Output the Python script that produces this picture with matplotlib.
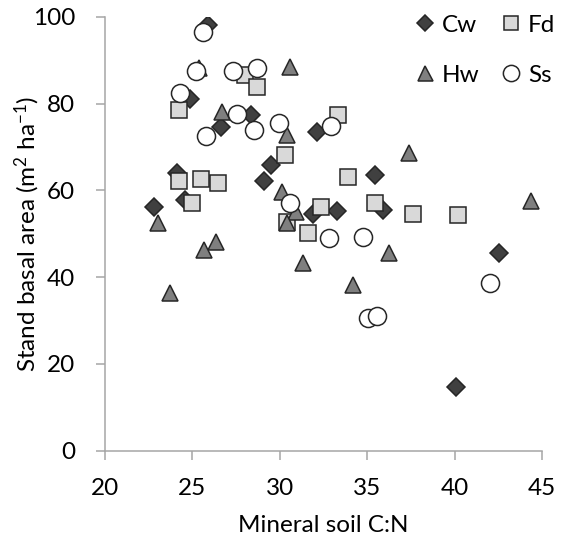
import matplotlib
matplotlib.use("Agg")
import matplotlib.pyplot as plt

plt.rcParams['font.family'] = ['Lato', 'DejaVu Sans']
plt.rcParams['mathtext.default'] = 'regular'

# Mineral soil C:N vs stand basal area, per species
cw_cn = [25.91, 24.86, 26.62, 28.34, 24.10, 24.58, 22.82, 29.48, 29.11, 32.11,
         31.88, 33.29, 35.45, 35.92, 42.56, 40.08]
cw_ba = [98.1, 81.0, 74.6, 77.4, 63.9, 57.8, 56.2, 65.8, 62.2, 73.5,
         54.5, 55.2, 63.5, 55.5, 45.6, 14.7]

fd_cn = [24.25, 28.01, 28.68, 33.35, 24.25, 25.47, 26.48, 24.96, 30.30, 33.92,
         32.34, 30.39, 31.63, 35.45, 37.64, 40.21]
fd_ba = [78.5, 86.6, 83.9, 77.3, 62.2, 62.5, 61.6, 57.0, 68.1, 63.1,
         56.2, 52.8, 50.1, 57.0, 54.5, 54.3]

hw_cn = [25.38, 26.68, 30.58, 30.39, 23.01, 26.35, 25.66, 23.72, 30.11, 30.93,
         30.39, 31.31, 34.20, 37.41, 36.26, 44.35]
hw_ba = [88.2, 78.1, 88.5, 72.7, 52.4, 48.2, 46.2, 36.3, 59.7, 55.1,
         52.4, 43.2, 38.2, 68.5, 45.5, 57.5]

ss_cn = [25.62, 25.21, 27.34, 28.68, 24.29, 27.53, 28.52, 25.78, 29.97, 32.91,
         30.58, 32.81, 34.74, 35.06, 35.54, 42.03]
ss_ba = [96.5, 87.6, 87.5, 88.1, 82.4, 77.6, 73.9, 72.4, 75.6, 74.9,
         57.0, 49.1, 49.3, 30.5, 31.0, 38.6]

xticks = [20, 25, 30, 35, 40, 45]
yticks = [0, 20, 40, 60, 80, 100]

fig = plt.figure(figsize=(5.61, 5.44), dpi=100)
ax = fig.add_axes([0.1872, 0.1715, 0.7789, 0.7978])

edge = '#262626'
mew = 1.1
h_cw, = ax.plot(cw_cn, cw_ba, 'D', ms=9.3, mfc='#404040', mec=edge, mew=mew, label='Cw')
h_fd, = ax.plot(fd_cn, fd_ba, 's', ms=11.2, mfc='#d9d9d9', mec=edge, mew=mew, label='Fd')
h_hw, = ax.plot(hw_cn, hw_ba, '^', ms=12, mfc='#7f7f7f', mec=edge, mew=mew, label='Hw')
h_ss, = ax.plot(ss_cn, ss_ba, 'o', ms=13, mfc='white', mec=edge, mew=mew, label='Ss')

ax.set_xlim(20, 45)
ax.set_ylim(0, 100)
ax.set_xticks(xticks)
ax.set_yticks(yticks)

for s in ['top', 'right']:
    ax.spines[s].set_visible(False)
for s in ['left', 'bottom']:
    ax.spines[s].set_color('#a6a6a6')
    ax.spines[s].set_linewidth(1.1)
ax.tick_params(direction='out', length=6.5, width=1.1, color='#a6a6a6',
               labelsize=17.5)
ax.tick_params(axis='y', pad=15)
ax.tick_params(axis='x', pad=13)

ax.set_xlabel('Mineral soil C:N', fontsize=17.5, va='baseline')
ax.set_ylabel('Stand basal area (m$^{2}$ ha$^{-1}$)', fontsize=17.5, va='baseline')
ax.xaxis.set_label_coords(0.5, -0.187)
ax.yaxis.set_label_coords(-0.16, 0.5)

ax.legend([h_cw, h_hw, h_fd, h_ss], ['Cw', 'Hw', 'Fd', 'Ss'], ncol=2,
          frameon=False, fontsize=17.5, loc='upper right',
          bbox_to_anchor=(1.08, 1.055), handlelength=0.8, handletextpad=0.3,
          labelspacing=1.2, columnspacing=0.9, markerscale=0.9)

fig.savefig('out.png', dpi=100)
